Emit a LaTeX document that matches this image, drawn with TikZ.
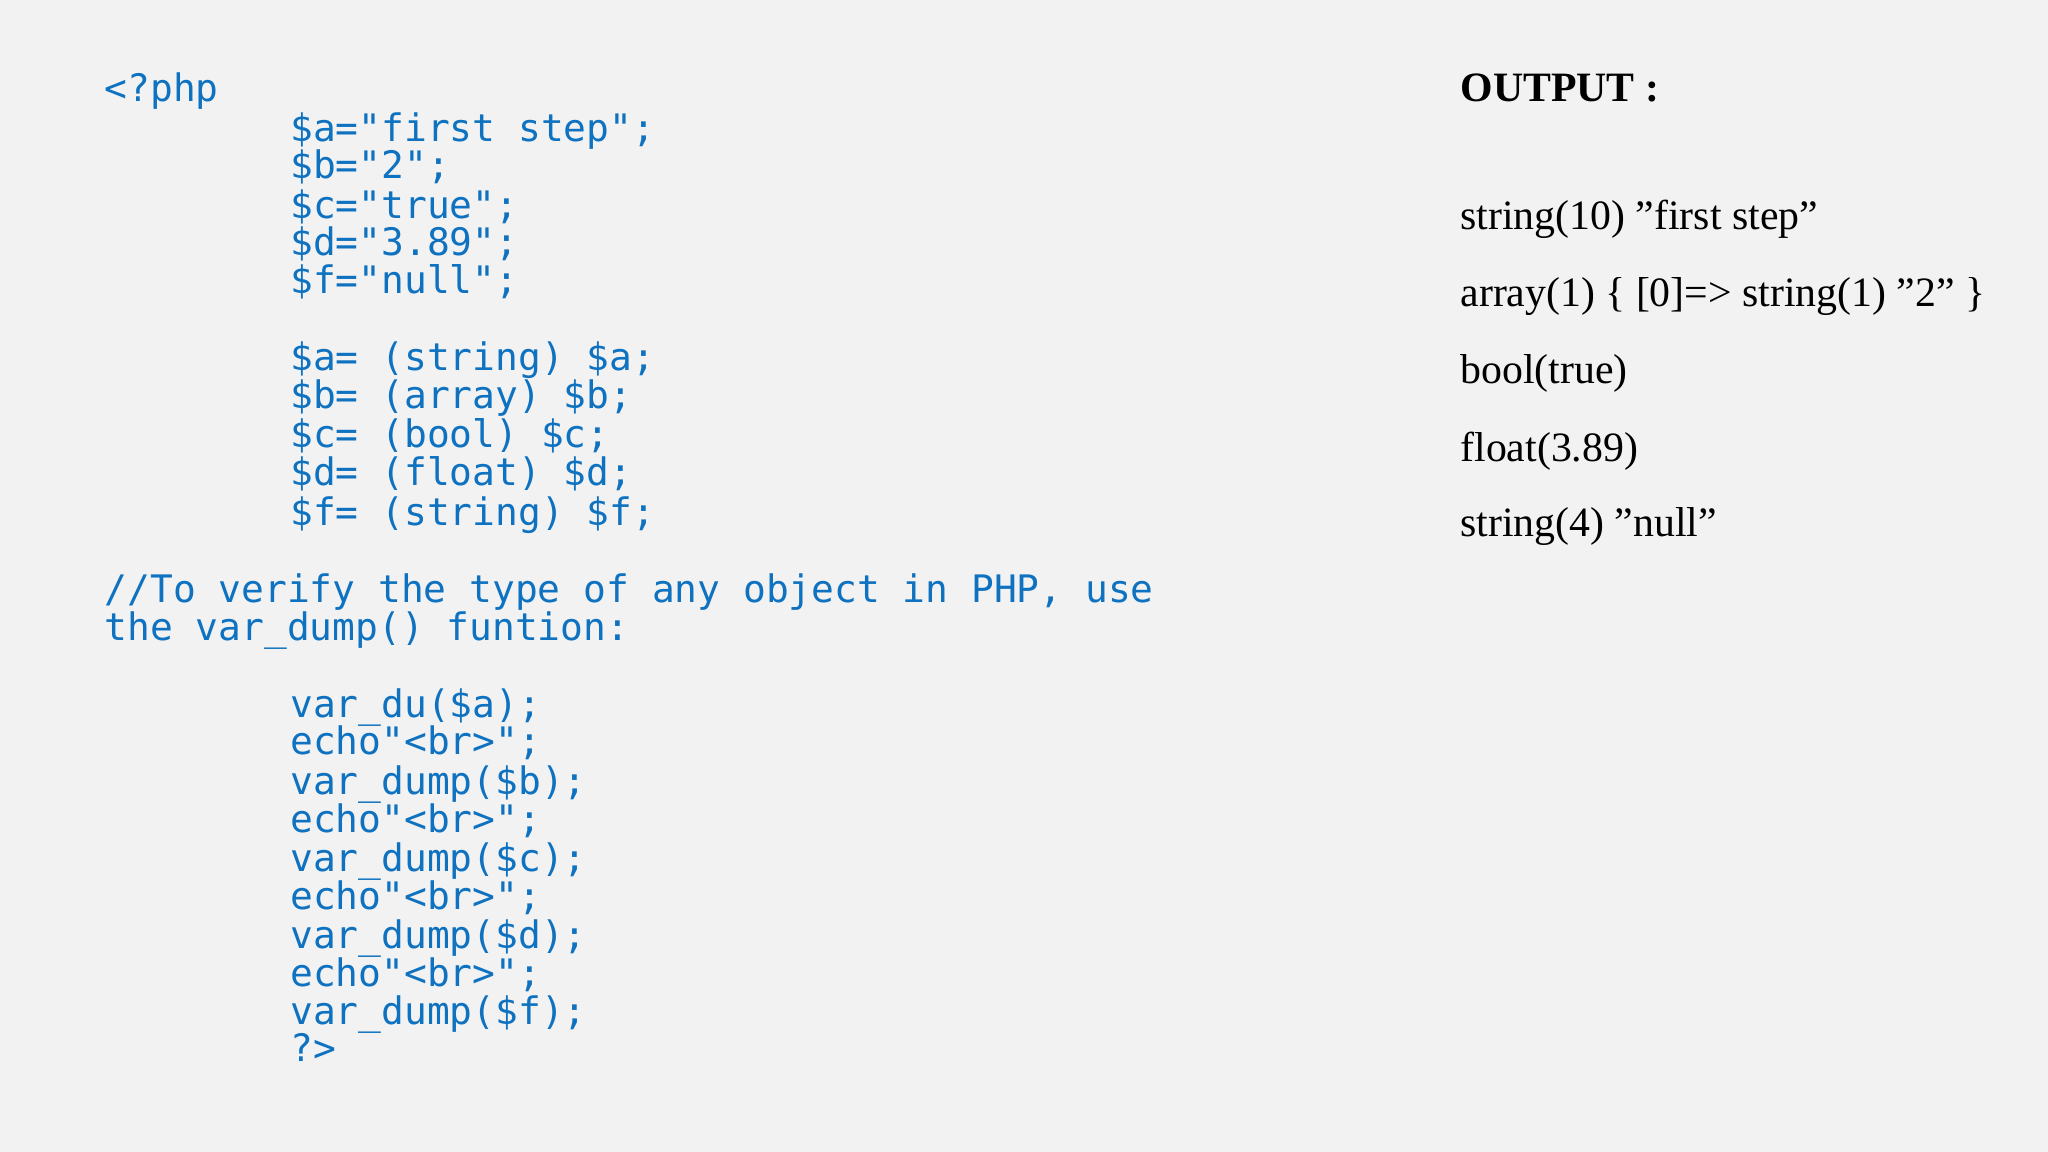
\documentclass[tikz,border=0pt]{standalone}
\usepackage{fontspec}
\setmainfont{Liberation Serif}
\newfontfamily\codefont{DejaVu Sans Mono}
\definecolor{bg}{HTML}{F2F2F2}
\definecolor{codeblue}{HTML}{0E72C0}
\tikzset{codeline/.style={anchor=base west,inner sep=0pt,text=codeblue,font=\codefont\fontsize{29}{29}\selectfont},
outline/.style={anchor=base west,inner sep=0pt,text=black,font=\fontsize{32}{32}\selectfont}}
\begin{document}
\begin{tikzpicture}[x=1pt,y=-1pt]
\fill[bg] (0,0) rectangle (1568,882);
\useasboundingbox (0,0) rectangle (1568,882);
\node[codeline] (l1) at (80,78) {<?php};
\node[codeline] (l2) at (222,108) {\$a="first step";};
\node[codeline] (l3) at (222,137) {\$b="2";};
\node[codeline] (l4) at (222,167) {\$c="true";};
\node[codeline] (l5) at (222,196) {\$d="3.89";};
\node[codeline] (l6) at (222,225) {\$f="null";};
\node[codeline] (l7) at (222,284) {\$a= (string) \$a;};
\node[codeline] (l8) at (222,313) {\$b= (array) \$b;};
\node[codeline] (l9) at (222,343) {\$c= (bool) \$c;};
\node[codeline] (l10) at (222,372) {\$d= (float) \$d;};
\node[codeline] (l11) at (222,402) {\$f= (string) \$f;};
\node[codeline] (l12) at (80,461) {//To verify the type of any object in PHP, use};
\node[codeline] (l13) at (80,490) {the var\_dump() funtion:};
\node[codeline] (l14) at (222,549) {var\_du(\$a);};
\node[codeline] (l15) at (222,578) {echo"<br>";};
\node[codeline] (l16) at (222,608) {var\_dump(\$b);};
\node[codeline] (l17) at (222,637) {echo"<br>";};
\node[codeline] (l18) at (222,667) {var\_dump(\$c);};
\node[codeline] (l19) at (222,696) {echo"<br>";};
\node[codeline] (l20) at (222,726) {var\_dump(\$d);};
\node[codeline] (l21) at (222,755) {echo"<br>";};
\node[codeline] (l22) at (222,784) {var\_dump(\$f);};
\node[codeline] (l23) at (222,813) {?>};
\node[outline,font=\bfseries\fontsize{32}{32}\selectfont] (o0) at (1118,78) {OUTPUT :};
\node[outline] (o1) at (1118,176) {string(10) "first step"};
\node[outline] (o2) at (1118,235) {array(1) \{ [0]=> string(1) "2" \}};
\node[outline] (o3) at (1118,294) {bool(true)};
\node[outline] (o4) at (1118,353) {float(3.89)};
\node[outline] (o5) at (1118,411) {string(4) "null"};
\end{tikzpicture}
\end{document}
